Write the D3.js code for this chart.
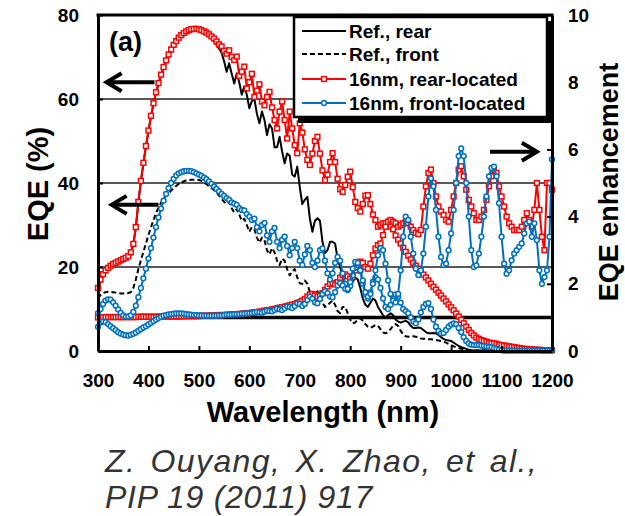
<!DOCTYPE html>
<html>
<head>
<meta charset="utf-8">
<script src="https://cdn.jsdelivr.net/npm/d3@7"></script>
<style>
  html, body { margin: 0; padding: 0; background: #fff; }
  svg { display: block; font-family: "Liberation Sans", Arial, Helvetica, sans-serif; }
</style>
</head>
<body>
<svg id="chart" width="625" height="516"></svg>
<script>
// Wavelength grid (nm), 5 nm steps
const wavelengths = d3.range(300, 1201, 5);

// EQE (%) of the reference cell, rear side
const eqeRefRear = [
  14.5, 16.6, 18.0, 19.0, 19.6, 20.1, 20.5, 20.8, 21.1, 21.4, 21.7, 22.0, 22.4, 23.3, 25.3, 29.3, 35.3, 40.3, 44.6, 48.6,
  52.3, 55.8, 58.8, 61.4, 63.6, 65.6, 67.4, 69.0, 70.4, 71.6, 72.7, 73.6, 74.4, 75.0, 75.5, 75.9, 76.2, 76.4, 76.5, 76.5,
  76.4, 76.2, 75.9, 75.5, 75.0, 74.4, 73.7, 72.9, 72.0, 71.0, 69.0, 66.5, 68.5, 66.0, 63.7, 66.1, 64.0, 61.0, 63.0, 61.0,
  57.8, 59.5, 60.0, 56.5, 54.2, 57.0, 55.0, 51.4, 54.0, 53.0, 48.5, 48.5, 51.0, 47.5, 44.7, 47.0, 46.5, 42.0, 41.5, 43.9,
  39.0, 35.0, 36.0, 36.7, 31.5, 28.4, 31.0, 31.6, 31.0, 26.0, 23.3, 24.0, 26.0, 26.0, 25.6, 22.0, 20.0, 17.5, 15.5, 14.5,
  15.0, 16.5, 17.5, 17.0, 15.0, 12.5, 11.0, 10.5, 11.5, 12.5, 12.0, 10.5, 9.5, 8.5, 8.0, 8.5, 9.0, 8.5, 7.5, 7.0,
  6.8, 7.0, 7.2, 6.8, 6.0, 5.5, 5.5, 5.6, 5.5, 5.0, 4.5, 4.2, 4.2, 4.3, 4.2, 3.8, 3.3, 2.9, 2.6, 2.5,
  2.4, 2.0, 1.6, 1.2, 0.9, 0.7, 0.5, 0.3, 0.2, 0.1, 0.1, 0.1, 0.1, 0.1, 0.1, 0.1, 0.1, 0.1, 0.1, 0.1,
  0.1, 0.1, 0.1, 0.1, 0.1, 0.1, 0.1, 0.1, 0.1, 0.1, 0.1, 0.1, 0.1, 0.1, 0.1, 0.1, 0.1, 0.1, 0.1, 0.1,
  0.1
];

// EQE (%) of the reference cell, front side
const eqeRefFront = [
  12.5, 13.3, 13.8, 14.0, 14.1, 14.1, 14.0, 13.9, 13.8, 13.7, 13.7, 13.7, 13.8, 14.0, 15.0, 17.0, 19.5, 21.6, 23.6, 25.6,
  27.6, 29.4, 31.2, 32.8, 34.2, 35.3, 36.3, 37.0, 37.6, 38.2, 38.8, 39.3, 39.8, 40.1, 40.4, 40.6, 40.7, 40.8, 40.8, 40.8,
  40.7, 40.5, 40.1, 39.7, 39.3, 38.8, 38.3, 37.7, 37.0, 36.2, 35.5, 35.0, 35.5, 34.0, 33.0, 33.8, 32.5, 31.0, 31.5, 30.0,
  28.4, 29.5, 29.0, 27.0, 25.8, 27.0, 26.4, 24.0, 23.0, 24.5, 23.5, 21.5, 20.5, 22.0, 21.5, 19.5, 18.0, 19.0, 19.5, 17.5,
  16.1, 16.0, 16.8, 16.0, 14.0, 12.9, 13.5, 14.2, 13.5, 11.5, 10.5, 10.8, 11.5, 12.0, 11.0, 9.5, 9.0, 10.5, 10.5, 9.0,
  7.5, 6.6, 6.8, 7.5, 7.8, 7.2, 6.4, 5.8, 5.5, 5.8, 6.2, 6.0, 5.2, 4.4, 4.2, 4.5, 5.2, 6.0, 6.4, 6.0,
  4.8, 3.9, 3.5, 3.4, 3.5, 3.5, 3.4, 3.2, 3.0, 2.9, 2.9, 2.8, 2.8, 2.7, 2.6, 2.5, 2.4, 2.2, 2.0, 1.7,
  1.4, 1.1, 0.9, 0.7, 0.5, 0.3, 0.2, 0.1, 0.1, 0.1, 0.1, 0.1, 0.1, 0.1, 0.1, 0.1, 0.1, 0.1, 0.1, 0.1,
  0.1, 0.1, 0.1, 0.1, 0.1, 0.1, 0.1, 0.1, 0.1, 0.1, 0.1, 0.1, 0.1, 0.1, 0.1, 0.1, 0.1, 0.1, 0.1, 0.1,
  0.1
];

// EQE (%) with 16 nm particles, rear-located
const eqeRear16 = [
  15.0, 17.0, 18.3, 19.2, 19.8, 20.3, 20.7, 21.0, 21.3, 21.6, 21.9, 22.2, 22.6, 23.5, 25.5, 29.5, 35.5, 40.5, 44.8, 48.8,
  52.5, 56.0, 59.0, 61.6, 63.8, 65.8, 67.6, 69.2, 70.6, 71.8, 72.9, 73.8, 74.6, 75.2, 75.7, 76.1, 76.4, 76.6, 76.7, 76.7,
  76.6, 76.4, 76.1, 75.8, 75.4, 74.9, 74.4, 73.7, 73.0, 72.5, 71.5, 70.8, 71.6, 70.0, 69.3, 70.1, 65.5, 66.5, 67.7, 62.5,
  64.0, 66.0, 60.5, 62.0, 63.5, 59.4, 58.5, 60.5, 61.7, 58.0, 55.0, 53.0, 57.0, 59.4, 55.0, 50.6, 57.0, 53.0, 49.0, 47.1,
  54.2, 52.0, 48.0, 45.5, 44.3, 47.0, 50.0, 51.0, 47.0, 43.0, 40.7, 42.0, 45.0, 47.1, 45.0, 41.0, 38.5, 37.9, 39.5, 41.5,
  42.7, 39.0, 35.5, 34.0, 33.2, 35.0, 37.0, 37.1, 35.0, 32.5, 31.2, 29.6, 30.0, 30.4, 30.4, 30.2, 29.6, 29.0, 27.5, 26.5,
  25.6, 24.6, 23.6, 22.7, 21.8, 21.0, 20.3, 19.6, 18.9, 18.2, 17.5, 16.8, 16.0, 15.3, 14.6, 13.9, 13.2, 12.5, 11.8, 11.1,
  10.4, 9.7, 8.9, 8.2, 7.4, 6.6, 5.8, 5.0, 4.3, 3.7, 3.2, 2.9, 2.6, 2.4, 2.2, 2.0, 1.9, 1.8, 1.7, 1.5,
  1.4, 1.3, 1.2, 1.1, 1.0, 0.9, 0.8, 0.7, 0.6, 0.5, 0.5, 0.4, 0.4, 0.3, 0.3, 0.3, 0.2, 0.2, 0.2, 0.2,
  0.2
];

// EQE (%) with 16 nm particles, front-located
const eqeFront16 = [
  9.0, 10.0, 11.2, 12.0, 12.3, 12.2, 11.6, 10.8, 9.9, 9.1, 8.5, 8.2, 8.2, 8.5, 9.3, 10.8, 12.8, 15.0, 17.3, 19.6,
  22.0, 24.5, 27.0, 29.5, 31.8, 33.9, 35.8, 37.4, 38.8, 40.0, 41.0, 41.8, 42.3, 42.6, 42.8, 42.9, 42.9, 42.8, 42.6, 42.3,
  42.0, 41.7, 41.3, 40.9, 40.4, 39.8, 39.2, 38.6, 38.0, 37.4, 36.9, 36.4, 36.0, 35.4, 35.1, 34.8, 34.0, 33.6, 33.5, 32.6,
  32.0, 31.2, 31.5, 29.5, 28.5, 30.0, 30.5, 27.5, 26.0, 28.5, 29.3, 26.0, 24.5, 26.5, 27.2, 25.0, 22.8, 24.5, 26.0, 24.5,
  21.5, 20.5, 23.0, 25.0, 24.0, 21.0, 20.0, 21.5, 24.0, 24.4, 21.5, 18.5, 17.0, 18.5, 21.0, 22.4, 21.5, 18.5, 16.0, 14.5,
  15.5, 18.0, 19.8, 20.5, 19.0, 16.0, 13.5, 12.5, 14.0, 16.5, 17.5, 17.0, 15.0, 12.5, 10.5, 10.0, 11.0, 12.5, 13.5, 13.0,
  11.5, 10.0, 9.5, 9.0, 8.0, 7.0, 6.6, 7.5, 9.2, 10.5, 11.2, 11.4, 10.0, 7.5, 5.8, 4.8, 4.2, 4.3, 5.0, 5.8,
  6.3, 6.6, 6.4, 5.5, 4.5, 3.3, 2.4, 1.8, 1.5, 1.4, 1.4, 1.4, 1.3, 1.2, 1.1, 1.0, 0.9, 0.7, 0.5, 0.3,
  0.2, 0.1, 0.1, 0.1, 0.1, 0.1, 0.1, 0.1, 0.1, 0.1, 0.1, 0.1, 0.1, 0.1, 0.1, 0.1, 0.1, 0.1, 0.1, 0.1,
  0.1
];

// EQE enhancement, 16 nm rear-located
const enhRear16 = [
  1.00, 1.00, 1.00, 1.01, 1.01, 1.01, 1.01, 1.01, 1.01, 1.01, 1.01, 1.01, 1.01, 1.01, 1.01, 1.01, 1.02, 1.02, 1.02, 1.02,
  1.02, 1.02, 1.02, 1.02, 1.02, 1.03, 1.03, 1.03, 1.03, 1.03, 1.03, 1.03, 1.03, 1.03, 1.04, 1.04, 1.04, 1.04, 1.04, 1.04,
  1.04, 1.05, 1.05, 1.05, 1.05, 1.06, 1.06, 1.06, 1.07, 1.07, 1.07, 1.08, 1.08, 1.09, 1.09, 1.10, 1.10, 1.11, 1.12, 1.12,
  1.13, 1.14, 1.15, 1.16, 1.17, 1.18, 1.20, 1.21, 1.22, 1.24, 1.25, 1.27, 1.29, 1.30, 1.32, 1.34, 1.36, 1.38, 1.40, 1.43,
  1.46, 1.50, 1.55, 1.62, 1.68, 1.70, 1.66, 1.62, 1.64, 1.72, 1.82, 1.92, 2.00, 2.02, 1.98, 2.05, 2.18, 2.26, 2.28, 2.22,
  2.15, 2.20, 2.40, 2.58, 2.66, 2.62, 2.50, 2.45, 2.60, 2.85, 3.05, 3.15, 3.20, 3.45, 3.70, 3.85, 3.90, 3.85, 3.80, 3.70,
  3.75, 3.80, 3.85, 3.80, 3.70, 3.60, 3.52, 3.48, 3.60, 4.30, 4.90, 5.30, 5.40, 5.00, 4.60, 4.30, 4.15, 4.05, 3.90, 3.85,
  4.20, 4.60, 5.00, 5.40, 5.50, 5.20, 4.80, 4.50, 4.30, 4.10, 3.90, 3.90, 4.00, 4.20, 4.50, 4.90, 5.20, 5.40, 5.30, 4.90,
  4.60, 4.30, 4.00, 3.80, 3.70, 3.60, 3.60, 3.60, 3.70, 3.90, 4.10, 3.90, 3.70, 4.20, 5.00, 4.20, 3.40, 3.00, 5.00, 5.00,
  4.80
];

// EQE enhancement, 16 nm front-located
const enhFront16 = [
  0.72, 0.85, 0.88, 0.86, 0.80, 0.74, 0.68, 0.62, 0.56, 0.52, 0.49, 0.47, 0.46, 0.48, 0.51, 0.55, 0.60, 0.65, 0.70, 0.74,
  0.79, 0.84, 0.89, 0.94, 0.98, 1.02, 1.05, 1.07, 1.09, 1.10, 1.11, 1.12, 1.12, 1.12, 1.11, 1.10, 1.09, 1.08, 1.07, 1.07,
  1.06, 1.06, 1.05, 1.05, 1.05, 1.05, 1.05, 1.05, 1.06, 1.06, 1.07, 1.08, 1.08, 1.09, 1.10, 1.10, 1.10, 1.11, 1.11, 1.12,
  1.12, 1.13, 1.14, 1.16, 1.15, 1.14, 1.17, 1.20, 1.19, 1.18, 1.22, 1.26, 1.24, 1.22, 1.27, 1.33, 1.31, 1.28, 1.34, 1.42,
  1.40, 1.34, 1.40, 1.52, 1.62, 1.56, 1.45, 1.42, 1.55, 1.70, 1.78, 1.72, 1.62, 1.60, 1.75, 1.95, 2.02, 1.95, 1.85, 1.85,
  2.05, 2.45, 2.65, 2.62, 2.40, 2.10, 1.75, 1.62, 1.70, 2.00, 2.40, 2.85, 3.06, 3.00, 2.60, 2.10, 1.70, 1.50, 1.45, 1.70,
  2.40, 3.40, 4.00, 3.90, 3.40, 2.90, 2.45, 2.26, 2.40, 2.90, 3.70, 4.60, 5.14, 4.90, 4.20, 3.40, 2.80, 2.56, 2.60, 3.00,
  3.50, 4.20, 5.00, 5.80, 6.03, 5.80, 5.00, 4.00, 3.00, 2.50, 2.55, 2.90, 3.40, 4.00, 4.60, 5.20, 5.45, 5.49, 5.20, 4.40,
  3.40, 2.60, 2.30, 2.40, 2.70, 2.90, 3.00, 3.10, 3.20, 3.50, 3.80, 3.85, 3.40, 3.80, 3.30, 2.40, 2.00, 2.20, 2.40, 3.40,
  5.70
];

// Axis ticks, guide levels and labels
const wavelengthTicks = [300, 400, 500, 600, 700, 800, 900, 1000, 1100, 1200];
const eqeTicks = [0, 20, 40, 60, 80];
const enhancementTicks = [0, 2, 4, 6, 8, 10];
const eqeGridLevels = [20, 40, 60];
const enhancementUnity = 1;
const seriesLabels = ["Ref., rear", "Ref., front", "16nm, rear-located", "16nm, front-located"];
const citationLines = ["Z. Ouyang, X. Zhao, et al.,", "PIP 19 (2011) 917"];

const RED = "#ff0000";
const BLUE = "#0070c0";

const svg = d3.select("#chart");
const plot = { left: 98, right: 552, top: 15, bottom: 351 };

const x = d3.scaleLinear().domain([300, 1200]).range([plot.left, plot.right]);
const yL = d3.scaleLinear().domain([0, 80]).range([plot.bottom, plot.top]);
const yR = d3.scaleLinear().domain([0, 10]).range([plot.bottom, plot.top]);

// horizontal guide lines
svg.append("g").selectAll("line").data(eqeGridLevels).join("line")
  .attr("x1", plot.left).attr("x2", plot.right)
  .attr("y1", d => yL(d)).attr("y2", d => yL(d))
  .attr("stroke", "#222").attr("stroke-width", 1.3);

// enhancement = 1 reference line
svg.append("line")
  .attr("x1", plot.left).attr("x2", plot.right)
  .attr("y1", yR(enhancementUnity)).attr("y2", yR(enhancementUnity))
  .attr("stroke", "#000").attr("stroke-width", 3.5);

const seriesG = svg.append("g");

function drawLine(values, scale, color, width, dash) {
  const gen = d3.line().x((d, i) => x(wavelengths[i])).y(d => scale(d));
  seriesG.append("path").datum(values)
    .attr("d", gen).attr("fill", "none")
    .attr("stroke", color).attr("stroke-width", width)
    .attr("stroke-linejoin", "round")
    .attr("stroke-dasharray", dash || null);
}

function drawSquares(values, scale, color) {
  seriesG.append("g").selectAll("rect").data(values).join("rect")
    .attr("x", (d, i) => x(wavelengths[i]) - 2.4)
    .attr("y", d => scale(d) - 2.4)
    .attr("width", 4.8).attr("height", 4.8)
    .attr("fill", "#fff").attr("stroke", color).attr("stroke-width", 1.5);
}

function drawCircles(values, scale, color) {
  seriesG.append("g").selectAll("circle").data(values).join("circle")
    .attr("cx", (d, i) => x(wavelengths[i]))
    .attr("cy", d => scale(d))
    .attr("r", 2.4)
    .attr("fill", "#fff").attr("stroke", color).attr("stroke-width", 1.5);
}

drawLine(eqeRefRear, yL, "#000", 2);
drawLine(eqeRefFront, yL, "#000", 2, "5,3");

drawLine(eqeRear16, yL, RED, 2);
drawSquares(eqeRear16, yL, RED);
drawLine(enhRear16, yR, RED, 2);
drawSquares(enhRear16, yR, RED);

drawLine(eqeFront16, yL, BLUE, 2);
drawCircles(eqeFront16, yL, BLUE);
drawLine(enhFront16, yR, BLUE, 2);
drawCircles(enhFront16, yR, BLUE);

// axes
function styleAxis(g) {
  g.select(".domain").attr("stroke", "#000").attr("stroke-width", 3);
  g.selectAll(".tick line").attr("stroke", "#000").attr("stroke-width", 2);
  g.selectAll(".tick text").attr("fill", "#000")
    .style("font-size", "19px").style("font-weight", "bold")
    .style("font-family", "'Liberation Sans', Arial, sans-serif");
}

svg.append("g").attr("transform", `translate(${plot.left},0)`)
  .call(d3.axisLeft(yL).tickValues(eqeTicks).tickSizeInner(-5).tickSizeOuter(0).tickPadding(19))
  .call(styleAxis);

svg.append("g").attr("transform", `translate(${plot.right},0)`)
  .call(d3.axisRight(yR).tickValues(enhancementTicks).tickSizeInner(-5).tickSizeOuter(0).tickPadding(16))
  .call(styleAxis);

svg.append("g").attr("transform", `translate(0,${plot.bottom})`)
  .call(d3.axisBottom(x).tickValues(wavelengthTicks).tickFormat(d3.format("d")).tickSizeInner(-5).tickSizeOuter(0).tickPadding(23))
  .call(styleAxis);

// top frame
svg.append("line")
  .attr("x1", plot.left - 1.5).attr("x2", plot.right + 1.5)
  .attr("y1", plot.top).attr("y2", plot.top)
  .attr("stroke", "#000").attr("stroke-width", 3);

// panel tag
svg.append("text").attr("x", 109).attr("y", 51)
  .style("font-size", "27px").style("font-weight", "bold").text("(a)");

// arrows pointing at the relevant axis
function arrow(xTip, xTail, y) {
  const dir = xTail > xTip ? 1 : -1;
  const g = svg.append("g").attr("stroke", "#000").attr("fill", "none")
    .attr("stroke-width", 4).attr("stroke-linecap", "butt");
  g.append("line").attr("x1", xTip + dir * 2).attr("x2", xTail).attr("y1", y).attr("y2", y);
  g.append("polyline")
    .attr("points", `${xTip + dir * 15},${y - 9} ${xTip},${y} ${xTip + dir * 15},${y + 9}`)
    .attr("stroke-linejoin", "miter");
}
arrow(x(317), x(412), yL(64));
arrow(x(327), x(420), yL(34.8));
arrow(x(1170), x(1077), yR(5.93));

// legend
const legend = svg.append("g");
legend.append("rect").attr("x", 298).attr("y", 21).attr("width", 254).attr("height", 102).attr("fill", "#000");
legend.append("rect").attr("x", 294).attr("y", 17).attr("width", 253).attr("height", 100)
  .attr("fill", "#fff").attr("stroke", "#000").attr("stroke-width", 2.5);

const rowY = [31, 54, 79, 103];
const sampleX1 = 302, sampleX2 = 346;
const legendStyles = [
  { color: "#000", dash: null, marker: null },
  { color: "#000", dash: "5,3", marker: null },
  { color: RED, dash: null, marker: "square" },
  { color: BLUE, dash: null, marker: "circle" }
];
seriesLabels.forEach((label, i) => {
  const st = legendStyles[i];
  const y = rowY[i];
  legend.append("line").attr("x1", sampleX1).attr("x2", sampleX2).attr("y1", y).attr("y2", y)
    .attr("stroke", st.color).attr("stroke-width", 2).attr("stroke-dasharray", st.dash);
  const mx = (sampleX1 + sampleX2) / 2;
  if (st.marker === "square") {
    legend.append("rect").attr("x", mx - 2.4).attr("y", y - 2.4).attr("width", 4.8).attr("height", 4.8)
      .attr("fill", "#fff").attr("stroke", st.color).attr("stroke-width", 1.5);
  } else if (st.marker === "circle") {
    legend.append("circle").attr("cx", mx).attr("cy", y).attr("r", 2.4)
      .attr("fill", "#fff").attr("stroke", st.color).attr("stroke-width", 1.5);
  }
  legend.append("text").attr("x", 349).attr("y", y + 7)
    .style("font-size", "19px").style("font-weight", "bold").text(label);
});

// axis titles
svg.append("text").attr("transform", "translate(48,184) rotate(-90)")
  .attr("text-anchor", "middle").style("font-size", "29px").style("font-weight", "bold").text("EQE (%)");
svg.append("text").attr("transform", "translate(618,182) rotate(-90)")
  .attr("text-anchor", "middle").style("font-size", "27px").style("font-weight", "bold").text("EQE enhancement");
svg.append("text").attr("x", 323).attr("y", 422)
  .attr("text-anchor", "middle").style("font-size", "29px").style("font-weight", "bold").text("Wavelength (nm)");

// citation
svg.append("text").attr("x", 105).attr("y", 472)
  .style("font-size", "32px").style("font-style", "italic")
  .style("letter-spacing", "1.4px").style("word-spacing", "4px").attr("fill", "#333")
  .text(citationLines[0]);
svg.append("text").attr("x", 105).attr("y", 508)
  .style("font-size", "32px").style("font-style", "italic")
  .style("letter-spacing", "0.7px").attr("fill", "#333")
  .text(citationLines[1]);
</script>
</body>
</html>
